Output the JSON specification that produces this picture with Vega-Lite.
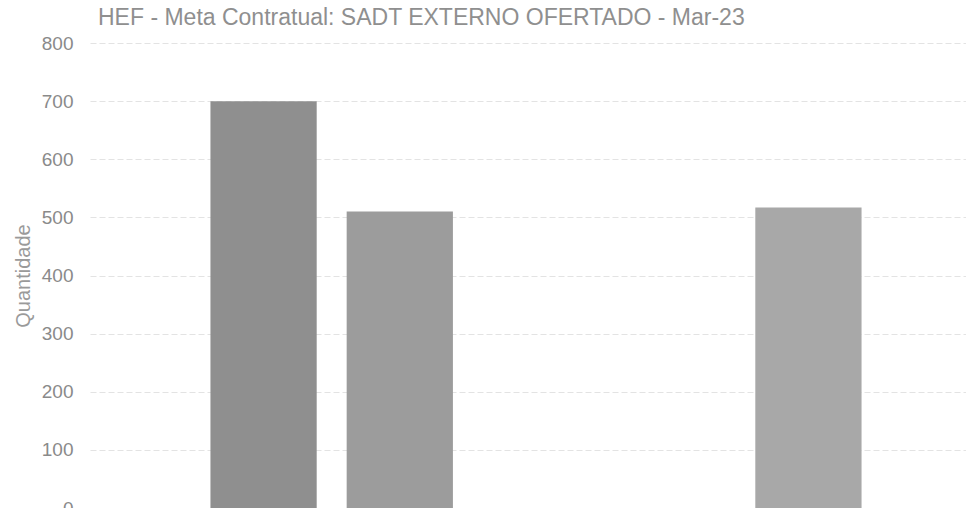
{
  "$schema": "https://vega.github.io/schema/vega-lite/v6.json",
  "autosize": {"type": "none"},
  "padding": {"left": 90, "top": 43, "right": 0, "bottom": 0},
  "width": 892,
  "height": 465,
  "background": "white",
  "view": {"stroke": null},
  "title": {
    "text": "HEF - Meta Contratual: SADT EXTERNO OFERTADO - Mar-23",
    "anchor": "start",
    "frame": "group",
    "dx": 8,
    "baseline": "alphabetic",
    "font": "Liberation Sans",
    "fontSize": 23,
    "fontWeight": "normal",
    "color": "#8f8f8f",
    "offset": -14
  },
  "data": {
    "values": [
      {"grupo": "Total", "serie": "Série 1", "valor": 700},
      {"grupo": "Total", "serie": "Série 2", "valor": 510},
      {"grupo": "Total", "serie": "Série 3", "valor": 0},
      {"grupo": "Total", "serie": "Série 4", "valor": 0},
      {"grupo": "Total", "serie": "Série 5", "valor": 517}
    ]
  },
  "mark": {"type": "bar"},
  "encoding": {
    "x": {
      "field": "grupo",
      "type": "nominal",
      "scale": {"paddingInner": 0, "paddingOuter": 0.185},
      "axis": {
        "title": null,
        "labelAngle": 0,
        "labelFont": "Liberation Sans",
        "labelFontSize": 19,
        "labelColor": "#858585",
        "ticks": false,
        "domain": false,
        "labelPadding": 0
      }
    },
    "xOffset": {
      "field": "serie",
      "type": "nominal",
      "sort": ["Série 1", "Série 2", "Série 3", "Série 4", "Série 5"],
      "scale": {"paddingInner": 0.22, "paddingOuter": 0}
    },
    "y": {
      "field": "valor",
      "type": "quantitative",
      "scale": {"domain": [0, 800], "nice": false},
      "axis": {
        "title": "Quantidade",
        "titleFont": "Liberation Sans",
        "titleFontSize": 20,
        "titleFontWeight": "normal",
        "titleColor": "#9a9a9a",
        "titlePadding": 8,
        "values": [0, 100, 200, 300, 400, 500, 600, 700, 800],
        "labelFont": "Liberation Sans",
        "labelFontSize": 19,
        "labelColor": "#8a8a8a",
        "labelPadding": 17,
        "ticks": false,
        "domain": false,
        "grid": true,
        "gridColor": "#e3e3e3",
        "gridWidth": 1,
        "gridDash": [6, 3]
      }
    },
    "color": {
      "field": "serie",
      "type": "nominal",
      "scale": {
        "domain": ["Série 1", "Série 2", "Série 3", "Série 4", "Série 5"],
        "range": ["#8f8f8f", "#9c9c9c", "#a5a5a5", "#a5a5a5", "#a8a8a8"]
      },
      "legend": null
    }
  }
}
